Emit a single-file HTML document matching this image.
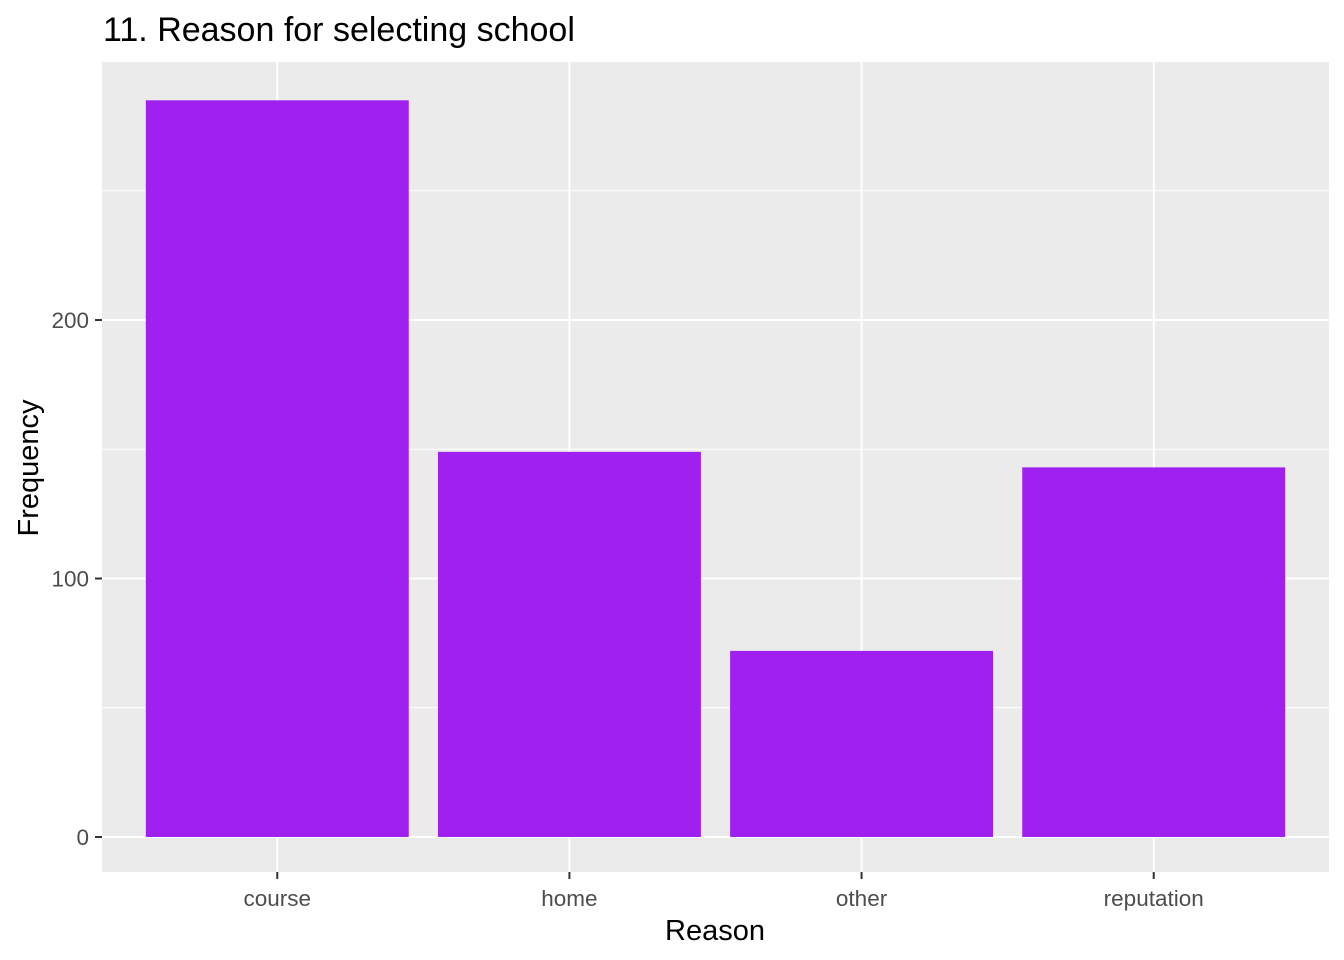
<!DOCTYPE html>
<html><head><meta charset="utf-8"><style>
body{margin:0;background:#fff}
svg{display:block;font-family:"Liberation Sans",Arial,sans-serif}
</style></head><body>
<svg id="chart" width="1344" height="960">
<text x="103" y="41" font-size="34" fill="#000">11. Reason for selecting school</text>
<rect x="102" y="62" width="1227" height="810" fill="#ebebeb"/>
<g id="grid"></g><g id="bars"></g><g id="axes"></g>
<text x="715" y="940" font-size="29" text-anchor="middle" fill="#000">Reason</text>
<text transform="translate(38,468) rotate(-90)" font-size="29" text-anchor="middle" fill="#000">Frequency</text>
</svg>
<script>
const categories=["course","home","other","reputation"];
const counts=[285,149,72,143];
const yTicks=[0,100,200];
const yMinor=[50,150,250];
const NS="http://www.w3.org/2000/svg";
const L=102,R=1329,T=62,B=872;
const maxV=Math.max(...counts);
const yLo=-0.0475*maxV,yHi=1.052*maxV;
const y=v=>B-(v-yLo)/(yHi-yLo)*(B-T);
const step=(R-L)/(categories.length+0.2);
const xc=i=>L+(i+0.6)*step;
function mk(tag,attrs,parent){const e=document.createElementNS(NS,tag);for(const k in attrs)e.setAttribute(k,attrs[k]);document.getElementById(parent).appendChild(e);return e;}
yMinor.forEach(v=>{const e=mk('line',{x1:L,x2:R,y1:y(v),y2:y(v),stroke:'#fff','stroke-width':1},'grid');

});
yTicks.forEach(v=>{const e=mk('line',{x1:L,x2:R,y1:y(v),y2:y(v),stroke:'#fff','stroke-width':2},'grid');


const t=mk('line',{x1:95,x2:102,y1:y(v),y2:y(v),stroke:'#333','stroke-width':2},'axes');


const l=mk('text',{x:89,y:y(v)+8,'font-size':22.5,'text-anchor':'end',fill:'#4d4d4d'},'axes');l.textContent=v;

});
categories.forEach((c,i)=>{const cx=xc(i);
const g=mk('line',{x1:cx,x2:cx,y1:T,y2:B,stroke:'#fff','stroke-width':2},'grid');


const w=0.9*step;
const b=mk('rect',{x:cx-w/2,y:y(counts[i]),width:w,height:y(0)-y(counts[i]),fill:'#a020f0'},'bars');


const t=mk('line',{x1:cx,x2:cx,y1:B,y2:B+7,stroke:'#333','stroke-width':2},'axes');


const l=mk('text',{x:cx,y:906,'font-size':22.5,'text-anchor':'middle',fill:'#4d4d4d'},'axes');l.textContent=c;

});
</script>
</body></html>
